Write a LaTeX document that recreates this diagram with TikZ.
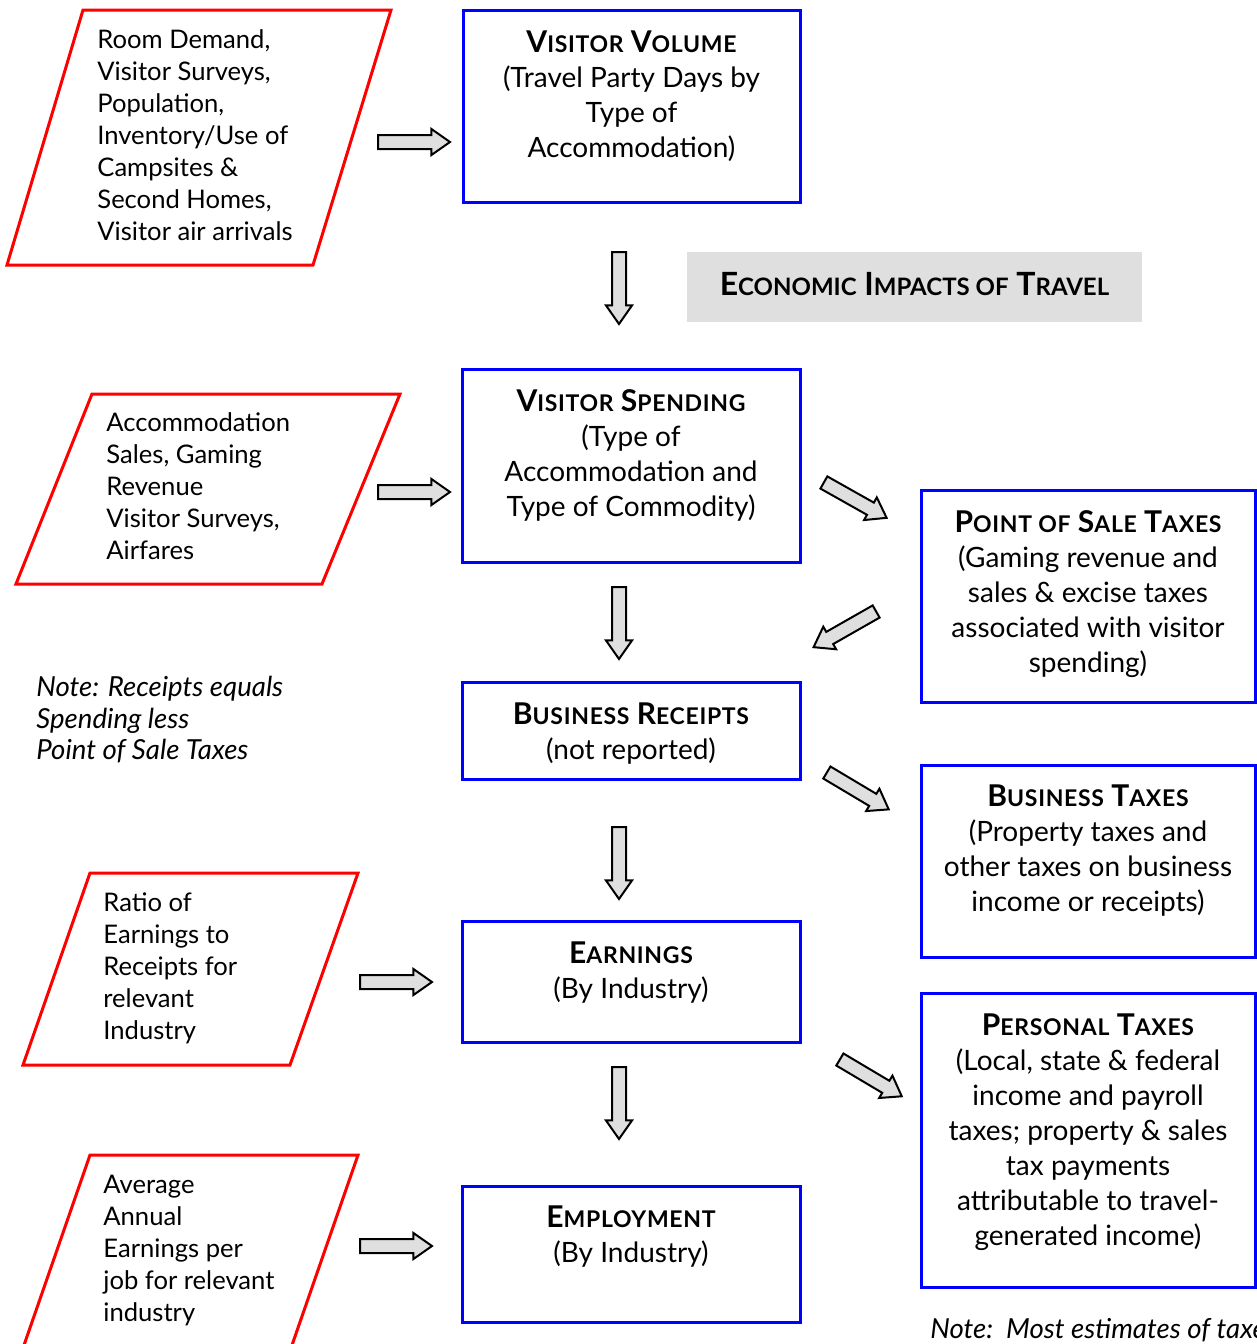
\documentclass[tikz,border=0pt]{standalone}
\usepackage{fontspec}
\setmainfont{Lato}
\usepackage{tikz}
\usetikzlibrary{shapes.arrows, positioning}

% headings in bold with smaller capitals
\newcommand{\hd}[1]{{\fontsize{15}{17.5}\selectfont\bfseries #1}}
\newcommand{\sml}[1]{{\fontsize{11.5}{17.5}\selectfont\addfontfeature{LetterSpace=3}#1}}

\begin{document}
\begin{tikzpicture}[
    x=0.5pt, y=-0.5pt,
    box/.style={rectangle, draw=blue, line width=1.5pt, inner sep=0pt},
    boxtext/.style={anchor=north, align=center, inner sep=0pt, font=\fontsize{14}{17.5}\selectfont},
    source/.style={draw=red, line width=1.5pt, line join=miter},
    srctext/.style={anchor=north west, align=left, inner sep=0pt, font=\fontsize{12.8}{16}\selectfont},
    note/.style={anchor=north west, align=left, inner sep=0pt, font=\fontsize{13.8}{15.75}\selectfont\itshape},
    blockarrow/.style={single arrow, draw=black, fill=gray!25, line width=1pt, inner sep=3pt,
        minimum width=12pt, minimum height=36pt, single arrow head extend=3pt,
        single arrow tip angle=70, single arrow head indent=0pt, anchor=tail}
]
\useasboundingbox (0,0) rectangle (1257,1344);
\clip (0,0) rectangle (1257,1344);

% Visitor volume
\draw[source] (83,10) -- (391,10) -- (313,265) -- (7,265) -- cycle;
\node[srctext] (src1) at (97,29) {Room Demand,\\Visitor Surveys,\\Population,\\Inventory/Use of\\Campsites \&\\Second Homes,\\Visitor air arrivals};
\node[blockarrow] (r1) at (377,142) {};
\node[box, minimum width=168.5pt, minimum height=96pt] (vv) at (631.5,106) {};
\node[boxtext] (vvtxt) at ([yshift=-11pt]vv.north) {\hd{V\sml{ISITOR} V\sml{OLUME}}\\(Travel Party Days by\\Type of\\Accommodation)};

\node[blockarrow, rotate=-90] (d1) at (619,251) {};
\node[fill=gray!25, minimum width=227.5pt, minimum height=35pt, inner sep=0pt,
    font=\fontsize{16}{16}\selectfont\bfseries] (title) at (914.5,287)
    {\raisebox{3pt}{E{\fontsize{12}{12}\selectfont CONOMIC} I{\fontsize{12}{12}\selectfont MPACTS OF} T{\fontsize{12}{12}\selectfont RAVEL}}};

% Visitor spending
\draw[source] (92,394) -- (400,394) -- (322,584) -- (16,584) -- cycle;
\node[srctext] (src2) at (106,412) {Accommodation\\Sales, Gaming\\Revenue\\Visitor Surveys,\\Airfares};
\node[blockarrow] (r2) at (377,492) {};
\node[box, minimum width=169pt, minimum height=96.5pt] (vs) at (631,465.5) {};
\node[boxtext] (vstxt) at ([yshift=-11pt]vs.north) {\hd{V\sml{ISITOR} S\sml{PENDING}}\\(Type of\\Accommodation and\\Type of Commodity)};

\node[blockarrow, rotate=-29.4] (g1) at (823,482) {};
\node[box, minimum width=167pt, minimum height=106pt] (pst) at (1088,596) {};
\node[boxtext] (psttxt) at ([yshift=-11pt]pst.north) {\hd{P\sml{OINT OF} S\sml{ALE} T\sml{AXES}}\\(Gaming revenue and\\sales \& excise taxes\\associated with visitor\\spending)};
\node[blockarrow, rotate=209.7] (g2) at (877,611) {};

% Business receipts
\node[blockarrow, rotate=-90] (d2) at (619,586) {};
\node[note] (note1) at (36,676) {Note: Receipts equals\\Spending less\\Point of Sale Taxes};
\node[box, minimum width=169pt, minimum height=48.5pt] (br) at (631,730.5) {};
\node[boxtext] (brtxt) at ([yshift=-11pt]br.north) {\hd{B\sml{USINESS} R\sml{ECEIPTS}}\\(not reported)};

\node[blockarrow, rotate=-30.8] (g3) at (826,772) {};
\node[box, minimum width=167pt, minimum height=96pt] (bt) at (1088,861) {};
\node[boxtext] (bttxt) at ([yshift=-10.5pt]bt.north) {\hd{B\sml{USINESS} T\sml{AXES}}\\(Property taxes and\\other taxes on business\\income or receipts)};

% Earnings
\node[blockarrow, rotate=-90] (d3) at (619,826) {};
\draw[source] (90,873) -- (358,873) -- (290,1065) -- (23,1065) -- cycle;
\node[srctext] (src3) at (103,892) {Ratio of\\Earnings to\\Receipts for\\relevant\\Industry};
\node[blockarrow] (r3) at (359,982) {};
\node[box, minimum width=169pt, minimum height=60.5pt] (ea) at (631,981.5) {};
\node[boxtext] (eatxt) at ([yshift=-11pt]ea.north) {\hd{E\sml{ARNINGS}}\\(By Industry)};

\node[blockarrow, rotate=-30.7] (g4) at (839,1059) {};
\node[box, minimum width=167pt, minimum height=147pt] (pt) at (1088,1140) {};
\node[boxtext] (pttxt) at ([yshift=-11pt]pt.north) {\hd{P\sml{ERSONAL} T\sml{AXES}}\\(Local, state \& federal\\income and payroll\\taxes; property \& sales\\tax payments\\attributable to travel-\\generated income)};

% Employment
\node[blockarrow, rotate=-90] (d4) at (619,1066) {};
\draw[source] (90,1155) -- (358,1155) -- (291,1348) -- (23,1348) -- cycle;
\node[srctext] (src4) at (103,1175) {Average\\Annual\\Earnings per\\job for relevant\\industry};
\node[blockarrow] (r4) at (359,1246) {};
\node[box, minimum width=169pt, minimum height=68pt] (em) at (631,1254) {};
\node[boxtext] (emtxt) at ([yshift=-10.5pt]em.north) {\hd{E\sml{MPLOYMENT}}\\(By Industry)};

\node[note] (note2) at (930,1318) {Note:\ \ Most estimates of taxes};

\end{tikzpicture}
\end{document}
